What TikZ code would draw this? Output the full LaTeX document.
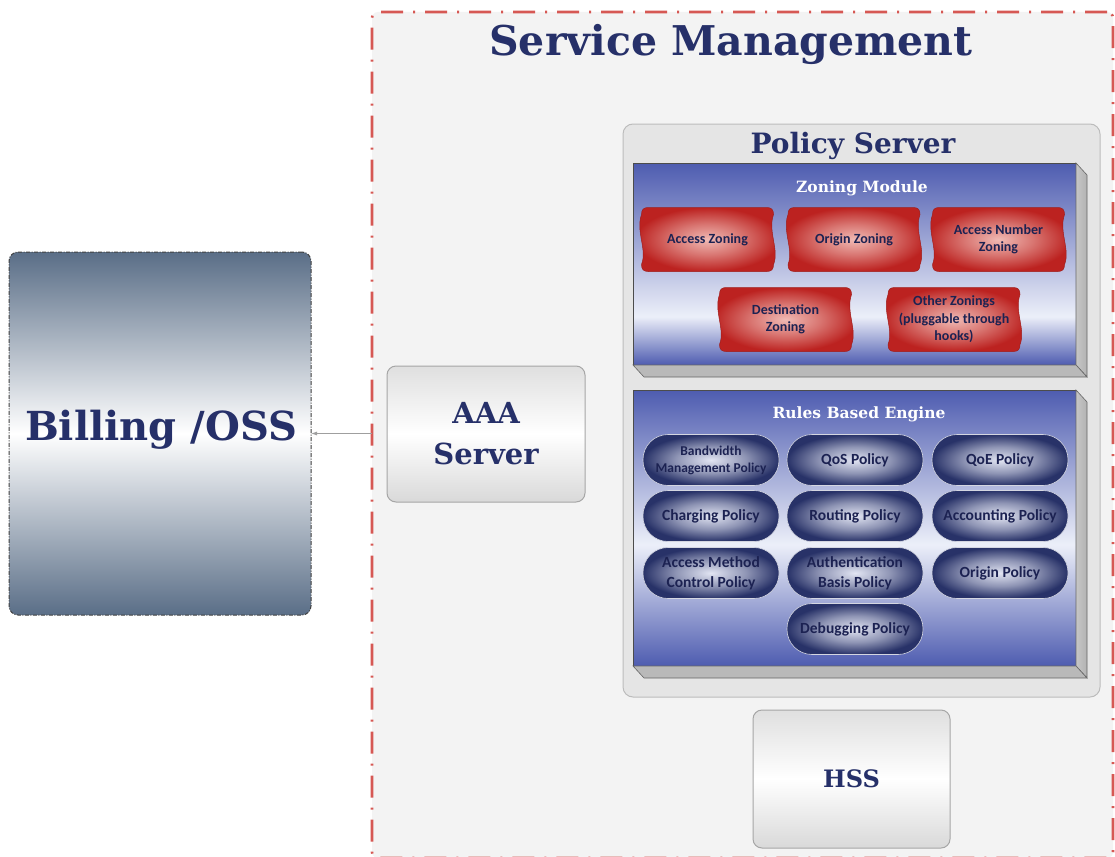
\documentclass[tikz,border=0pt]{standalone}
\usepackage{fontspec}
\setmainfont{DejaVu Serif}
\newfontfamily\headfont{DejaVu Serif}
\newfontfamily\labelfont{Carlito}
\usetikzlibrary{calc,arrows.meta}

\definecolor{navy}{RGB}{38,48,105}
\definecolor{labelnavy}{RGB}{28,34,82}
\definecolor{smfill}{RGB}{243,243,243}
\definecolor{smred}{RGB}{214,88,84}
\definecolor{psfill}{RGB}{229,229,229}
\definecolor{psline}{RGB}{188,188,188}
\definecolor{modblue}{RGB}{78,92,176}
\definecolor{modlight}{RGB}{236,239,249}
\definecolor{zonered}{RGB}{188,34,32}
\definecolor{zonelight}{RGB}{240,186,180}
\definecolor{pilldark}{RGB}{40,50,104}
\definecolor{pilllight}{RGB}{226,229,243}
\definecolor{billdark}{RGB}{90,110,135}

% vertical bands of the two module faces (path spans 25bp..75bp)
\pgfdeclareverticalshading{zoneband}{100bp}{color(0bp)=(modblue); color(25bp)=(modblue); color(37bp)=(modlight); color(75bp)=(modblue); color(100bp)=(modblue)}
\pgfdeclareverticalshading{rulesband}{100bp}{color(0bp)=(modblue); color(25bp)=(modblue); color(47bp)=(modlight); color(75bp)=(modblue); color(100bp)=(modblue)}
% glows of the zone shapes and the policy pills
\pgfdeclareradialshading{zoneglow}{\pgfpoint{0bp}{0bp}}{color(0bp)=(zonelight); color(12bp)=(zonelight!55!zonered); color(25bp)=(zonered); color(50bp)=(zonered)}
\pgfdeclareradialshading{pillglow}{\pgfpoint{0bp}{0bp}}{color(0bp)=(pilllight); color(13bp)=(pilllight!55!pilldark); color(25bp)=(pilldark); color(50bp)=(pilldark)}

\tikzset{
  every node/.style={inner sep=0pt, outer sep=0pt},
  smbox/.style={rectangle, rounded corners=6, fill=smfill, draw=smred, line width=2.6,
    dash pattern=on 22pt off 10pt on 2pt off 10pt},
  psbox/.style={rectangle, rounded corners=10, fill=psfill, draw=psline, line width=1},
  modface/.style={rectangle, draw=black!70, line width=0.8, shade},
  sideface/.style={left color=gray!45, right color=gray!60, draw=black!60, line width=0.6},
  bottomface/.style={fill=gray!55, draw=black!60, line width=0.6},
  zoneshade/.style={shading=zoneglow, draw=zonered!85!black, line width=0.5},
  zonelabel/.style={font=\labelfont\bfseries\fontsize{14}{17.5}\selectfont, text=labelnavy, align=center},
  pill/.style={rectangle, rounded corners=25, minimum width=136, minimum height=51, shade,
    shading=pillglow, draw=white!80!pilldark, line width=0.6,
    font=\labelfont\bfseries\fontsize{15.5}{20}\selectfont, text=labelnavy, align=center},
  graybox/.style={rectangle, rounded corners=9, draw=gray!70, line width=1,
    top color=gray!25, bottom color=gray!30, middle color=white,
    font=\headfont\bfseries\fontsize{29}{41}\selectfont, text=navy, align=center},
  billbox/.style={rectangle, rounded corners=9, draw=black!75, line width=1,
    dash pattern=on 4pt off 1.5pt on 1pt off 1.5pt,
    top color=billdark, bottom color=billdark, middle color=white},
  modtitle/.style={font=\headfont\bfseries\fontsize{15.5}{18}\selectfont, text=white},
  linkarrow/.style={-{Latex[length=6,width=4]}, draw=gray!75, line width=0.8},
}

% a zone shape: rounded box whose left and right sides run in a gentle wave
\newcommand\zone[4]{%
  \coordinate (#1-nw) at (#2,#3);
  \begin{scope}[shift={(#1-nw)}]
    \shade[zoneshade]
      (1,7) .. controls (1,2) and (3,0) .. (8,0) -- (126,0)
      .. controls (131,0) and (133,2) .. (133,7)
      .. controls (127,24) and (139,42) .. (133,57)
      .. controls (133,62) and (131,64) .. (126,64) -- (8,64)
      .. controls (3,64) and (1,62) .. (1,57)
      .. controls (7,42) and (-5,24) .. (1,7) -- cycle;
  \end{scope}
  \node[zonelabel] (#1) at ($(#1-nw)+(67,32)$) {#4};}

% side and bottom faces that give a module its depth
\newcommand\moduledepth[1]{%
  \path[sideface] (#1.north east) -- ++(11,12) -- ($(#1.south east)+(11,12)$) -- (#1.south east) -- cycle;
  \path[bottomface] (#1.south west) -- (#1.south east) -- ($(#1.south east)+(11,12)$) -- ($(#1.south west)+(11,12)$) -- cycle;}

\begin{document}
\begin{tikzpicture}[x=1pt, y=-1pt]
\path[use as bounding box, fill=white] (0,0) rectangle (1115,856);

% service management frame
\node[smbox, minimum width=741, minimum height=846] (sm) at (742.5,435) {};
\node[font=\headfont\bfseries\fontsize{41}{48}\selectfont, text=navy, anchor=base] (smtitle) at (731,56) {Service Management};

% billing system
\node[billbox, minimum width=302, minimum height=363] (bill) at (160,433.5) {};
\node[font=\headfont\bfseries\fontsize{40}{44}\selectfont, text=navy] (billtext) at (161,430) {Billing /OSS};

% AAA server and HSS
\node[graybox, minimum width=198, minimum height=136] (aaa) at (486,434) {AAA\\Server};
\node[graybox, minimum width=197, minimum height=138, font=\headfont\bfseries\fontsize{24}{30}\selectfont] (hss) at (851.5,779) {HSS};

\draw[linkarrow] (bill.east -| sm.west) -- (bill.east);

% policy server
\node[psbox, minimum width=477, minimum height=573] (ps) at (861.5,410.5) {};
\node[font=\headfont\bfseries\fontsize{28}{32}\selectfont, text=navy, anchor=base] (pstitle) at (853,153) {Policy Server};

% zoning module
\node[modface, shading=zoneband, minimum width=443, minimum height=202] (zm) at (854.5,264) {};
\moduledepth{zm}
\node[modtitle] (zmtitle) at (862,188) {Zoning Module};
\zone{az}{640.5}{207.5}{Access Zoning}
\zone{oz}{787}{207.5}{Origin Zoning}
\zone{anz}{931.5}{207.5}{Access Number\\Zoning}
\zone{dz}{718.5}{287.5}{Destination\\Zoning}
\zone{otz}{887}{287.5}{Other Zonings\\(pluggable through\\hooks)}

% rules based engine
\node[modface, shading=rulesband, minimum width=443, minimum height=276] (rbe) at (854.5,528) {};
\moduledepth{rbe}
\node[modtitle] (rbetitle) at (859,414) {Rules Based Engine};

\node[pill, font=\labelfont\bfseries\fontsize{13.5}{17}\selectfont] (bw) at (711,460) {Bandwidth\\Management Policy};
\node[pill] (qos) at (855,460) {QoS Policy};
\node[pill] (qoe) at (1000,460) {QoE Policy};
\node[pill] (chg) at (711,516) {Charging Policy};
\node[pill] (rout) at (855,516) {Routing Policy};
\node[pill] (acct) at (1000,516) {Accounting Policy};
\node[pill] (amc) at (711,573) {Access Method\\Control Policy};
\node[pill] (auth) at (855,573) {Authentication\\Basis Policy};
\node[pill] (orig) at (1000,573) {Origin Policy};
\node[pill] (dbg) at (855,629) {Debugging Policy};
\end{tikzpicture}
\end{document}
